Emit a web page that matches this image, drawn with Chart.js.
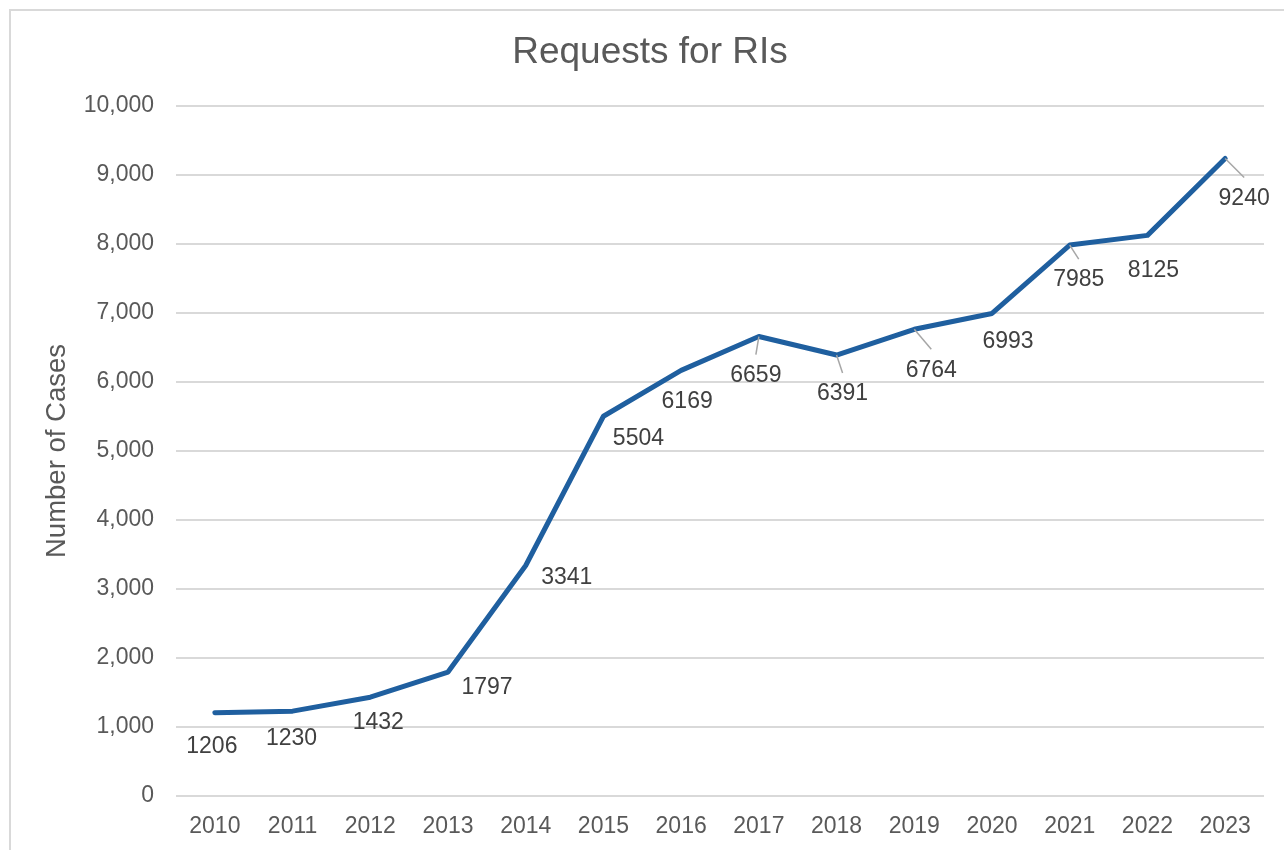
<!DOCTYPE html>
<html>
<head>
<meta charset="utf-8">
<script src="https://cdn.jsdelivr.net/npm/chart.js@4.4.1/dist/chart.umd.min.js"></script>
<style>
    html, body { margin: 0; padding: 0; background: #fff; overflow: hidden; }
    #wrap { position: relative; width: 1284px; height: 850px; }
    #frame { position: absolute; left: 9px; top: 9px; width: 1400px; height: 1000px; border: 2px solid #d9d9d9; pointer-events: none; }
</style>
</head>
<body>
<div id="wrap">
    <canvas id="lineChart"></canvas>
    <div id="frame"></div>
</div>
<script>
// datos del grafico
const years = ['2010', '2011', '2012', '2013', '2014', '2015', '2016', '2017', '2018', '2019', '2020', '2021', '2022', '2023'];
const requests = [1206, 1230, 1432, 1797, 3341, 5504, 6169, 6659, 6391, 6764, 6993, 7985, 8125, 9240];
const yTicksMax = 10000;
const yTicksStep = 1000;

// desplazamiento de cada etiqueta respecto a su punto (px), y si lleva linea guia
const labelOffsets = [
    [-3, 34, false], [-1, 28, false], [8, 25, false], [39, 16, false], [41, 12, false],
    [35, 22, false], [6, 31, false], [-3, 39, true], [6, 39, true], [17, 41, true],
    [16, 28, false], [9, 35, true], [6, 35, false], [19, 40, true]
];

const FONT = "'Liberation Sans', Arial, sans-serif";

// etiquetas de datos estilo Excel (debajo, con lineas guia)
const dataLabelsPlugin = {
    id: 'dataLabels',
    afterDatasetsDraw(chart) {
        const ctx = chart.ctx;
        const meta = chart.getDatasetMeta(0);
        ctx.save();
        meta.data.forEach((pt, i) => {
            const off = labelOffsets[i] || [0, 28, false];
            const lx = pt.x + off[0];
            const ly = pt.y + off[1];
            if (off[2]) {
                ctx.strokeStyle = '#a6a6a6';
                ctx.lineWidth = 1.5;
                ctx.beginPath();
                ctx.moveTo(pt.x, pt.y);
                ctx.lineTo(lx, ly - 21);
                ctx.stroke();
            }
            ctx.fillStyle = '#404040';
            ctx.font = '23px ' + FONT;
            ctx.textAlign = 'center';
            ctx.textBaseline = 'middle';
            ctx.fillText(String(requests[i]), lx, ly);
        });
        ctx.restore();
    }
};

const chartCtx = document.getElementById('lineChart').getContext('2d');
new Chart(chartCtx, {
    type: 'line',
    data: {
        labels: years,
        datasets: [{
            label: 'Requests for RIs',
            data: requests,
            borderColor: '#1f5f9f',
            borderWidth: 5,
            borderJoinStyle: 'round',
            borderCapStyle: 'round',
            pointRadius: 0,
            pointHoverRadius: 0,
            tension: 0,
            fill: false
        }]
    },
    options: {
        responsive: true,
        maintainAspectRatio: false,
        animation: false,
        layout: { padding: { left: 36, right: 20, top: 0, bottom: 0 } },
        plugins: {
            legend: { display: false },
            tooltip: { enabled: false },
            title: {
                display: true,
                text: 'Requests for RIs',
                color: '#595959',
                font: { family: FONT, size: 37, weight: 'normal', lineHeight: 1.2 },
                padding: { top: 31, bottom: 30.6 }
            }
        },
        scales: {
            x: {
                offset: true,
                grid: { display: false, drawTicks: false },
                border: { display: false },
                ticks: {
                    color: '#595959',
                    font: { family: FONT, size: 23 },
                    padding: 17,
                    maxRotation: 0,
                    autoSkip: false
                },
                afterFit(scale) { scale.height = 54; }
            },
            y: {
                min: 0,
                max: yTicksMax,
                grid: { color: '#d9d9d9', lineWidth: 2, drawTicks: false },
                border: { display: false },
                ticks: {
                    stepSize: yTicksStep,
                    color: '#595959',
                    font: { family: FONT, size: 23 },
                    padding: 22,
                    callback: v => v.toLocaleString('en-US')
                },
                title: {
                    display: true,
                    text: 'Number of Cases',
                    color: '#595959',
                    font: { family: FONT, size: 27.5, weight: 'normal', lineHeight: 1.2 },
                    padding: { top: 5, bottom: 0 }
                },
                afterFit(scale) { scale.width = 140; }
            }
        }
    },
    plugins: [dataLabelsPlugin]
});
</script>
</body>
</html>
